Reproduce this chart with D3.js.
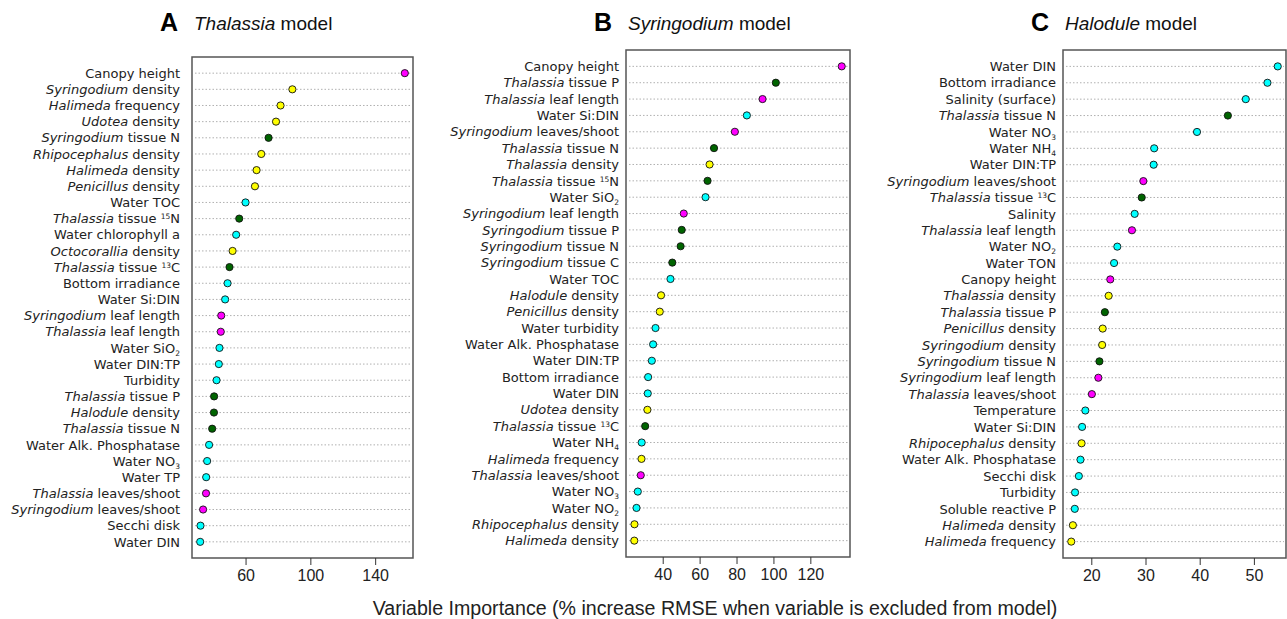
<!DOCTYPE html>
<meta charset="utf-8">
<style>
body { margin: 0; background: #fff; }
.lab { font: 13px "DejaVu Sans", Verdana, sans-serif; fill: #222; }
.tick text { font: 16px "Liberation Sans", Arial, sans-serif; fill: #222; }
.grid { stroke: #b0b0b0; stroke-width: 1; stroke-dasharray: 1.5,2; }
.frame { fill: none; stroke: #555; stroke-width: 1.5; }
.dot { stroke: #111; stroke-width: 0.9; }
.ttl { font: 19px "Liberation Sans", Arial, sans-serif; fill: #111; }
.letter { font: bold 25px "Liberation Sans", Arial, sans-serif; fill: #000; }
.xtitle { font: 19.6px "Liberation Sans", Arial, sans-serif; fill: #222; }
</style>
<body>
<div id="main"></div>
<script src="https://cdnjs.cloudflare.com/ajax/libs/d3/7.8.5/d3.min.js"></script>
<script>
// label markup: *italic*, ^superscript^, _subscript_
var thalLabels = ["Canopy height", "*Syringodium* density", "*Halimeda* frequency", "*Udotea* density",
	"*Syringodium* tissue N", "*Rhipocephalus* density", "*Halimeda* density", "*Penicillus* density",
	"Water TOC", "*Thalassia* tissue ^15^N", "Water chlorophyll a", "*Octocorallia* density",
	"*Thalassia* tissue ^13^C", "Bottom irradiance", "Water Si:DIN", "*Syringodium* leaf length",
	"*Thalassia* leaf length", "Water SiO_2_", "Water DIN:TP", "Turbidity", "*Thalassia* tissue P",
	"*Halodule* density", "*Thalassia* tissue N", "Water Alk. Phosphatase", "Water NO_3_", "Water TP",
	"*Thalassia* leaves/shoot", "*Syringodium* leaves/shoot", "Secchi disk", "Water DIN"];
var thalValues = [158.3, 88.9, 81.6, 78.8, 74.2, 69.7, 66.8, 65.8, 60.0, 56.1, 54.2, 52.0, 50.1, 48.9, 47.4,
	45.0, 44.7, 43.9, 43.5, 42.1, 40.6, 40.5, 39.4, 37.5, 36.3, 35.7, 35.6, 33.8, 32.2, 32.0];
var thalGroups = ["m","y","y","y","g","y","y","y","c","g","c","y","g","c","c",
	"m","m","c","c","c","g","g","g","c","c","c","m","m","c","c"];

var syrLabels = ["Canopy height", "*Thalassia* tissue P", "*Thalassia* leaf length", "Water Si:DIN",
	"*Syringodium* leaves/shoot", "*Thalassia* tissue N", "*Thalassia* density", "*Thalassia* tissue ^15^N",
	"Water SiO_2_", "*Syringodium* leaf length", "*Syringodium* tissue P", "*Syringodium* tissue N",
	"*Syringodium* tissue C", "Water TOC", "*Halodule* density", "*Penicillus* density", "Water turbidity",
	"Water Alk. Phosphatase", "Water DIN:TP", "Bottom irradiance", "Water DIN", "*Udotea* density",
	"*Thalassia* tissue ^13^C", "Water NH_4_", "*Halimeda* frequency", "*Thalassia* leaves/shoot",
	"Water NO_3_", "Water NO_2_", "*Rhipocephalus* density", "*Halimeda* density"];
var syrValues = [137.0, 101.3, 94.1, 85.6, 79.1, 67.8, 65.4, 64.3, 63.2, 51.4, 50.3, 49.7, 45.2, 44.2, 39.1,
	38.4, 36.1, 34.8, 34.1, 32.1, 31.9, 31.7, 30.5, 28.6, 28.5, 28.1, 26.5, 25.8, 24.7, 24.6];
var syrGroups = ["m","g","m","c","m","g","y","g","c","m","g","g","g","c","y",
	"y","c","c","c","c","c","y","g","c","y","m","c","c","y","y"];

var halLabels = ["Water DIN", "Bottom irradiance", "Salinity (surface)", "*Thalassia* tissue N", "Water NO_3_",
	"Water NH_4_", "Water DIN:TP", "*Syringodium* leaves/shoot", "*Thalassia* tissue ^13^C", "Salinity",
	"*Thalassia* leaf length", "Water NO_2_", "Water TON", "Canopy height", "*Thalassia* density",
	"*Thalassia* tissue P", "*Penicillus* density", "*Syringodium* density", "*Syringodium* tissue N",
	"*Syringodium* leaf length", "*Thalassia* leaves/shoot", "Temperature", "Water Si:DIN",
	"*Rhipocephalus* density", "Water Alk. Phosphatase", "Secchi disk", "Turbidity", "Soluble reactive P",
	"*Halimeda* density", "*Halimeda* frequency"];
var halValues = [54.4, 52.5, 48.5, 45.2, 39.5, 31.6, 31.5, 29.6, 29.3, 28.0, 27.5, 24.8, 24.2, 23.5, 23.2,
	22.5, 22.1, 22.0, 21.5, 21.3, 20.1, 18.9, 18.3, 18.2, 18.0, 17.7, 17.0, 16.95, 16.6, 16.3];
var halGroups = ["c","c","c","g","c","c","c","m","g","c","m","c","c","m","y",
	"g","y","y","g","m","m","c","c","y","c","c","c","c","y","y"];

var titles = ["Thalassia", "Syringodium", "Halodule"];
var letters = ["A", "B", "C"];
var ticksA = [60, 100, 140], ticksB = [40, 60, 80, 100, 120], ticksC = [20, 30, 40, 50];

var groupColor = { m: "#ff00ff", y: "#ffff00", c: "#00ffff", g: "#006400" };

var panels = [
	{ labels: thalLabels, values: thalValues, groups: thalGroups, ticks: ticksA, box: [192, 57, 413, 558], gap: 12 },
	{ labels: syrLabels, values: syrValues, groups: syrGroups, ticks: ticksB, box: [626, 50, 850, 557], gap: 7 },
	{ labels: halLabels, values: halValues, groups: halGroups, ticks: ticksC, box: [1063, 50, 1286, 558], gap: 7 }
];

var svg = d3.select("#main").append("svg").attr("width", 1287).attr("height", 619);

// write a marked-up label into a text element as tspans
function richText(sel, s) {
	var parts = s.split(/(\*[^*]+\*|\^[^^]+\^|_[^_]+_)/).filter(function(p) { return p.length; });
	parts.forEach(function(p) {
		var t = sel.append("tspan");
		if (p[0] == "*") t.style("font-style", "italic").text(p.slice(1, -1));
		else if (p[0] == "^") t.attr("font-size", "7.5px").attr("baseline-shift", "4.5px").text(p.slice(1, -1));
		else if (p[0] == "_") t.attr("font-size", "7.5px").attr("baseline-shift", "-3px").text(p.slice(1, -1));
		else t.text(p);
	});
}

panels.forEach(function(p, i) {
	var x0 = p.box[0], y0 = p.box[1], x1 = p.box[2], y1 = p.box[3];
	var lo = d3.min(p.values), hi = d3.max(p.values), pad = (hi - lo) * 0.04;
	var x = d3.scaleLinear().domain([lo - pad, hi + pad]).range([x0, x1]);
	var y = d3.scalePoint().domain(d3.range(p.values.length)).range([y0, y1]).padding(1);
	var g = svg.append("g");

	g.selectAll(".grid").data(p.values).enter().append("line")
		.attr("class", "grid")
		.attr("x1", x0 + 3).attr("x2", x1 - 2)
		.attr("y1", function(d, j) { return y(j); })
		.attr("y2", function(d, j) { return y(j); });

	g.selectAll(".lab").data(p.labels).enter().append("text")
		.attr("class", "lab")
		.attr("x", x0 - p.gap)
		.attr("y", function(d, j) { return y(j); })
		.attr("dy", "0.36em")
		.attr("text-anchor", "end")
		.each(function(d) { richText(d3.select(this), d); });

	g.append("rect").attr("class", "frame")
		.attr("x", x0).attr("y", y0).attr("width", x1 - x0).attr("height", y1 - y0);

	g.selectAll(".dot").data(p.values).enter().append("circle")
		.attr("class", "dot")
		.attr("cx", function(d) { return x(d); })
		.attr("cy", function(d, j) { return y(j); })
		.attr("r", 3.6)
		.attr("fill", function(d, j) { return groupColor[p.groups[j]]; });

	var axis = g.append("g").attr("transform", "translate(0," + y1 + ")")
		.call(d3.axisBottom(x).tickValues(p.ticks).tickSize(7).tickPadding(5).tickFormat(d3.format("d")));
	axis.select(".domain").remove();
	axis.selectAll(".tick line").attr("stroke", "#333");

	var tt = svg.append("text").attr("class", "ttl").attr("x", x0 + 2).attr("y", 30);
	tt.append("tspan").style("font-style", "italic").text(titles[i]);
	tt.append("tspan").text(" model");
	svg.append("text").attr("class", "letter").attr("x", x0 - 32).attr("y", 30.5).text(letters[i]);
});

svg.append("text").attr("class", "xtitle")
	.attr("x", 715).attr("y", 615).attr("text-anchor", "middle")
	.text("Variable Importance (% increase RMSE when variable is excluded from model)");
</script>
</body>
